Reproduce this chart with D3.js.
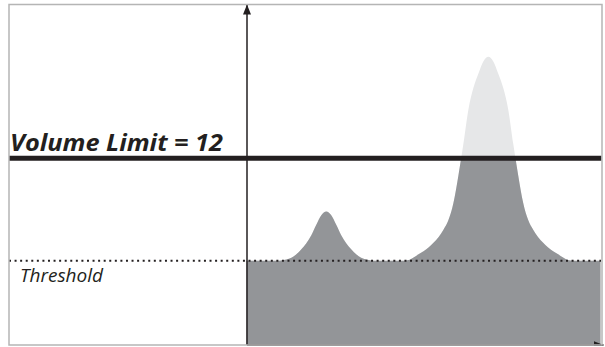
<!DOCTYPE html>
<html><head><meta charset="utf-8">
<script src="https://cdn.jsdelivr.net/npm/d3@7"></script>
<style>html,body{margin:0;padding:0;background:#fff;overflow:hidden}</style>
</head><body><svg id="c" width="605" height="346"></svg>
<script>
// ---- data ----
const times = [0, 30, 35, 40, 45, 50, 55, 60, 65, 70, 75, 80, 85, 90, 95, 100, 105, 110, 115, 120, 125, 130,
  157.5, 162.5, 167.5, 172.5, 177.5, 182.5, 187.5, 192.5, 197.5, 202.5, 207.5, 212.5, 217.5, 222.5, 227.5, 232.5, 237.5,
  242.5,
  247.5, 252.5, 257.5, 262.5, 267.5, 272.5, 277.5, 282.5, 287.5, 292.5, 297.5, 302.5, 307.5, 312.5, 317.5, 322.5, 327.5,
  355];
const volumes = [5.40, 5.40, 5.42, 5.48, 5.59, 5.82, 6.14, 6.53, 7.04, 7.72, 8.33, 8.57, 8.33, 7.72, 7.04, 6.53, 6.14, 5.82, 5.59, 5.48, 5.42, 5.40,
  5.40, 5.44, 5.61, 5.82, 6.01, 6.26, 6.56, 6.92, 7.40, 8.02, 9.12, 10.90, 12.94, 15.14, 16.53, 17.45, 18.25,
  18.55,
  18.25, 17.45, 16.53, 15.14, 12.94, 10.90, 9.12, 8.02, 7.40, 6.92, 6.56, 6.26, 6.01, 5.82, 5.61, 5.44, 5.40,
  5.40];
const volumeLimit = 12;
const threshold = 5.40;
const limitLabel = "Volume Limit = 12";
const thresholdLabel = "Threshold";
const xDomain = [0, 355];
const yDomain = [0, 21.95];

// ---- drawing ----
const svg = d3.select("#c");
const x = d3.scaleLinear().domain(xDomain).range([246.5, 600.5]);
const y = d3.scaleLinear().domain(yDomain).range([344.5, 4]);
const data = times.map((t, i) => ({t, v: volumes[i]}));

const defs = svg.append("defs");
defs.append("clipPath").attr("id", "below")
  .append("rect").attr("x", 0).attr("y", y(volumeLimit)).attr("width", 605).attr("height", 346 - y(volumeLimit));
const mk = defs.append("marker").attr("id", "arrow").attr("viewBox", "0 0 10 8")
  .attr("refX", 10).attr("refY", 4).attr("markerWidth", 10).attr("markerHeight", 8)
  .attr("markerUnits", "userSpaceOnUse").attr("orient", "auto");
mk.append("path").attr("d", "M0,0L10,4L0,8Z").attr("fill", "#231f20");

const area = d3.area().x(d => x(d.t)).y0(y(0)).y1(d => y(d.v)).curve(d3.curveMonotoneX);
svg.append("path").datum(data).attr("d", area).attr("fill", "#e6e7e8");
svg.append("path").datum(data).attr("d", area).attr("fill", "#939598").attr("clip-path", "url(#below)");

// threshold dotted line
svg.append("line").attr("x1", 9).attr("x2", 601).attr("y1", y(threshold)).attr("y2", y(threshold))
  .attr("stroke", "#231f20").attr("stroke-width", 2).attr("stroke-dasharray", "2,3.57");
// volume limit line
svg.append("line").attr("x1", 9).attr("x2", 601.5).attr("y1", y(volumeLimit)).attr("y2", y(volumeLimit))
  .attr("stroke", "#231f20").attr("stroke-width", 5);

// axes
const yAxis = svg.append("g").attr("transform", `translate(${x(0)},0)`)
  .call(d3.axisLeft(y).ticks(0).tickSize(0).tickSizeOuter(0));
yAxis.select(".domain").attr("stroke", "#231f20").attr("stroke-width", 1.5).attr("marker-end", "url(#arrow)");
const xAxis = svg.append("g").attr("transform", `translate(0,${y(0)})`)
  .call(d3.axisBottom(x.copy().range([246.5, 603])).ticks(0).tickSize(0).tickSizeOuter(0));
xAxis.select(".domain").attr("stroke", "#231f20").attr("stroke-width", 1.5).attr("marker-end", "url(#arrow)");

// labels
svg.append("text").attr("x", 10).attr("y", 151).text(limitLabel)
  .attr("font-family", "'Open Sans', sans-serif").attr("font-weight", "bold").attr("font-style", "italic")
  .attr("font-size", 23).attr("fill", "#231f20")
  .attr("textLength", 213).attr("lengthAdjust", "spacingAndGlyphs");
svg.append("text").attr("x", 20).attr("y", 281.5).text(thresholdLabel)
  .attr("font-family", "'Open Sans', sans-serif").attr("font-style", "italic")
  .attr("font-size", 19).attr("fill", "#231f20")
  .attr("textLength", 83).attr("lengthAdjust", "spacingAndGlyphs");

// frame
svg.append("rect").attr("x", 9).attr("y", 4.5).attr("width", 593).attr("height", 340.5)
  .attr("fill", "none").attr("stroke", "#b5b5b5").attr("stroke-width", 1.5);
</script></body></html>
